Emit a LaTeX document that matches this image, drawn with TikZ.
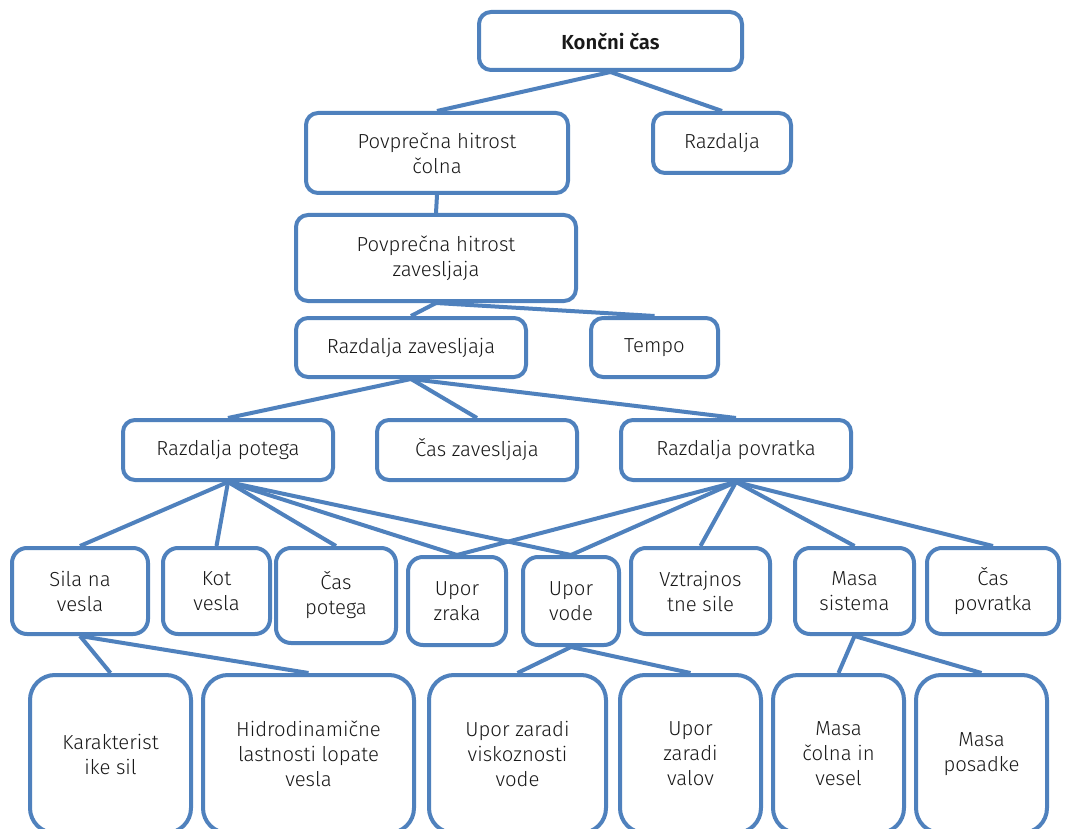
\documentclass[tikz,border=0pt]{standalone}
\usepackage{fontspec}
\setmainfont{Fira Sans}[UprightFont={* Light}, BoldFont={* SemiBold}]
\definecolor{boxblue}{HTML}{4F81BD}
\begin{document}
\begin{tikzpicture}[x=1pt,y=-1pt,
  bx/.style={draw=boxblue, line width=4pt, fill=white, rounded corners=12pt,
    align=center, inner sep=0pt, text=black!90,
    font=\fontsize{20.3}{25}\selectfont},
  tall/.style={bx, rounded corners=15pt},
  big/.style={bx, rounded corners=25pt, minimum height=158pt},
  ln/.style={draw=boxblue, line width=4pt}]
\useasboundingbox[fill=white] (0,0) rectangle (1066,829);
% level 0-3
\node[bx, minimum width=263pt, minimum height=58pt, font=\fontsize{20.3}{25}\selectfont\bfseries] (top) at (610.5,41) {Končni čas};
\node[bx, minimum width=262pt, minimum height=80pt] (pc) at (437,153) {Povprečna hitrost\\čolna};
\node[bx, minimum width=138pt, minimum height=60pt] (raz) at (722,143) {Razdalja};
\node[bx, minimum width=280pt, minimum height=86pt] (pz) at (436,258) {Povprečna hitrost\\zavesljaja};
\node[bx, minimum width=230pt, minimum height=59pt] (rz) at (411,347.5) {Razdalja zavesljaja};
\node[bx, minimum width=127pt, minimum height=59pt] (tempo) at (654.5,347.5) {Tempo};
\node[bx, minimum width=210pt, minimum height=60pt] (rp) at (228,450) {Razdalja potega};
\node[bx, minimum width=200pt, minimum height=60pt] (cz) at (477,450) {Čas zavesljaja};
\node[bx, minimum width=230pt, minimum height=60pt] (rpov) at (736,450) {Razdalja povratka};
% level 4
\node[tall, minimum width=136pt, minimum height=86pt] (sila) at (80,591) {Sila na\\vesla};
\node[tall, minimum width=107pt, minimum height=86pt] (kot) at (216.5,591) {Kot\\vesla};
\node[tall, minimum width=120pt, minimum height=95pt] (caspot) at (336,595.5) {Čas\\potega};
\node[tall, minimum width=98pt, minimum height=88pt] (uporz) at (457,601) {Upor\\zraka};
\node[tall, minimum width=96pt, minimum height=88pt] (uporv) at (571,601) {Upor\\vode};
\node[tall, minimum width=139pt, minimum height=86pt] (vztr) at (700.5,591) {Vztrajnos\\tne sile};
\node[tall, minimum width=119pt, minimum height=86pt] (masa) at (854.5,591) {Masa\\sistema};
\node[tall, minimum width=132pt, minimum height=86pt] (caspov) at (993,591) {Čas\\povratka};
% level 5
\node[big, minimum width=161pt] (kar) at (110.5,754) {Karakterist\\ike sil};
\node[big, minimum width=211pt] (hid) at (308.5,754) {Hidrodinamične\\lastnosti lopate\\vesla};
\node[big, minimum width=177pt] (visk) at (517.5,754) {Upor zaradi\\viskoznosti\\vode};
\node[big, minimum width=141pt] (valov) at (690.5,754) {Upor\\zaradi\\valov};
\node[big, minimum width=131pt] (mcol) at (838.5,754) {Masa\\čolna in\\vesel};
\node[big, minimum width=131pt] (mpos) at (981.5,754) {Masa\\posadke};
% connectors
\draw[ln] (top.south) -- (pc.north);
\draw[ln] (top.south) -- (raz.north);
\draw[ln] (pc.south) -- (pz.north);
\draw[ln] (pz.south) -- (rz.north);
\draw[ln] (pz.south) -- (tempo.north);
\draw[ln] (rz.south) -- (rp.north);
\draw[ln] (rz.south) -- (cz.north);
\draw[ln] (rz.south) -- (rpov.north);
\draw[ln] (rp.south) -- (sila.north);
\draw[ln] (rp.south) -- (kot.north);
\draw[ln] (rp.south) -- (caspot.north);
\draw[ln] (rp.south) -- (uporz.north);
\draw[ln] (rp.south) -- (uporv.north);
\draw[ln] (rpov.south) -- (uporz.north);
\draw[ln] (rpov.south) -- (uporv.north);
\draw[ln] (rpov.south) -- (vztr.north);
\draw[ln] (rpov.south) -- (masa.north);
\draw[ln] (rpov.south) -- (caspov.north);
\draw[ln] (sila.south) -- (kar.north);
\draw[ln] (sila.south) -- (hid.north);
\draw[ln] (uporv.south) -- (visk.north);
\draw[ln] (uporv.south) -- (valov.north);
\draw[ln] (masa.south) -- (mcol.north);
\draw[ln] (masa.south) -- (mpos.north);
\end{tikzpicture}
\end{document}
